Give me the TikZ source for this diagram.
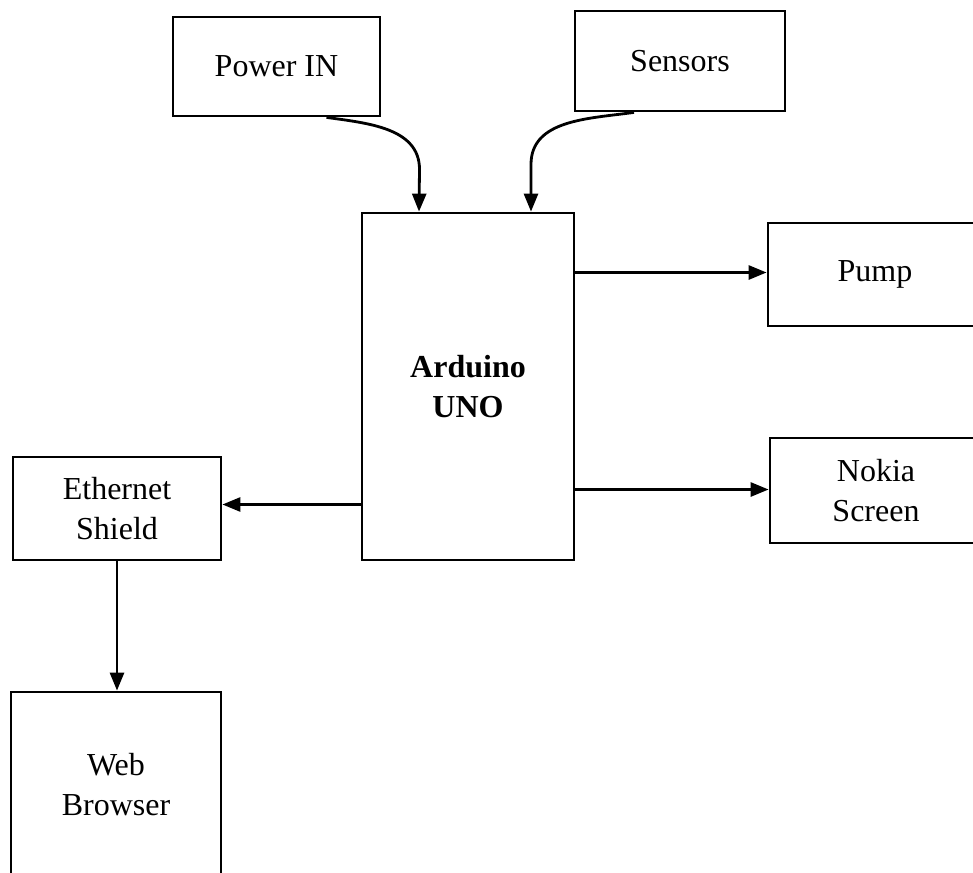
\documentclass[tikz,border=0pt]{standalone}
\usepackage{fontspec}
\setmainfont{Liberation Serif}
\usetikzlibrary{arrows.meta}
\tikzset{
  blockbox/.style={draw, line width=2.8pt, inner sep=0pt, align=center,
    font=\fontsize{32}{40}\selectfont},
  flow/.style={-{Triangle[length=18pt,width=14pt]}, line width=2.8pt}
}
\begin{document}
\begin{tikzpicture}[x=1pt,y=-1pt]
\useasboundingbox (0,0) rectangle (973,872);
\node[blockbox, minimum width=207pt, minimum height=99pt] (power) at (276.5,66.5) {Power IN};
\node[blockbox, minimum width=210pt, minimum height=100pt] (sensors) at (680,61) {Sensors};
\node[blockbox, minimum width=212pt, minimum height=347pt] (uno) at (468,386.5) {\textbf{Arduino}\\\textbf{UNO}};
\node[blockbox, minimum width=214pt, minimum height=103pt] (pump) at (875,274.5) {Pump};
\node[blockbox, minimum width=212pt, minimum height=105pt] (nokia) at (876,490.5) {Nokia\\Screen};
\node[blockbox, minimum width=208pt, minimum height=103pt] (eth) at (117,508.5) {Ethernet\\Shield};
\node[blockbox, minimum width=210pt, minimum height=186pt] (web) at (116,785) {Web\\Browser};
% inputs
\draw[flow] ([xshift=50pt]power.south) to[out=-8,in=90] ++(93,52) -- ([xshift=-49pt]uno.north);
\draw[flow] ([xshift=-46pt]sensors.south) to[out=188,in=90] ++(-103,52) -- ([xshift=63pt]uno.north);
% outputs
\draw[flow] ([yshift=2pt]uno.east |- pump.west) -- ([yshift=2pt]pump.west);
\draw[flow] ([yshift=1pt]uno.east |- nokia.west) -- ([yshift=1pt]nokia.west);
\draw[flow] ([yshift=4pt]uno.west |- eth.east) -- ([yshift=4pt]eth.east);
\draw[flow] (eth.south) -- (eth.south |- web.north);
\end{tikzpicture}
\end{document}
